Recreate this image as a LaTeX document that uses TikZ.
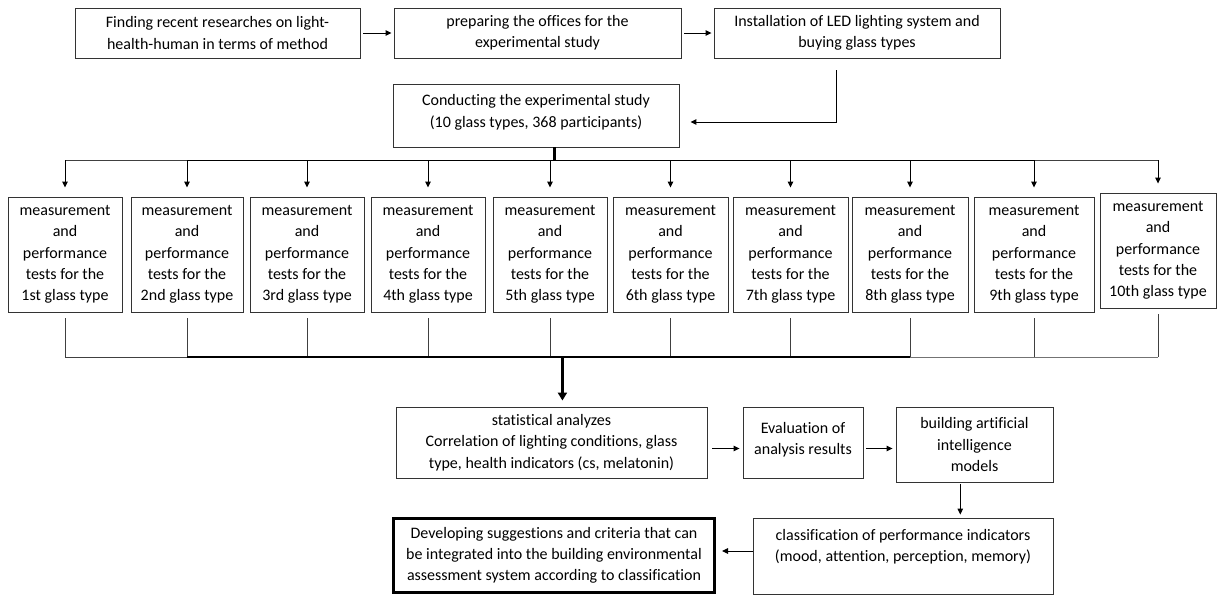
\documentclass[tikz,border=0pt]{standalone}
\usepackage{fontspec}
\setmainfont{Carlito}[Ligatures=NoCommon]
\usetikzlibrary{arrows.meta,calc}
% box placed by its corners: name, x1, y1, x2, y2, text
\newcommand\flowbox[7][]{%
  \node[box,#1,minimum width={#5-#3},minimum height={#6-#4}] (#2)
    at ({(#3+#5)/2},{(#4+#6)/2}) {#7};}
\newcommand\mtext[1]{measurement\\and\\performance\\tests for the\\#1 glass type}
\begin{document}
\begin{tikzpicture}[x=1pt,y=-1pt,
  box/.style={draw=black!80,line width=0.9pt,align=center,inner sep=0pt,
    font=\fontsize{16}{21.3}\selectfont},
  arr/.style={-{Triangle[length=6pt,width=5.5pt]},line width=1pt},
  thinline/.style={line width=0.8pt,draw=black!75},
  busline/.style={line width=1.3pt},
  trunk/.style={line width=2.6pt},
]
\useasboundingbox (0,0) rectangle (1218,595);

% top row
\flowbox{find}{75}{8}{360}{58}{Finding recent researches on light-\\health-human in terms of method}
\flowbox{prep}{394}{8}{681}{58}{preparing the offices for the\\experimental study}
\flowbox{inst}{714}{8}{1000}{58}{Installation of LED lighting system and\\buying glass types}
\flowbox{cond}{393}{84}{679}{147}{Conducting the experimental study\\(10 glass types, 368 participants)\\[-12pt]}

\draw[arr,shorten <=3pt,shorten >=2pt] (find) -- (prep);
\draw[arr,shorten <=3pt,shorten >=2pt] (prep) -- (inst);
\coordinate (instdrop) at ($(inst.south west)!0.43!(inst.south east)$);
\coordinate (condin) at ($(cond.east)+(0,6.5)$);
\draw[arr,shorten <=12pt,shorten >=11pt] (instdrop) |- (condin);

% measurement boxes
\flowbox{m1}{8}{197}{122}{312}{\mtext{1st}}
\flowbox{m2}{131}{197}{243}{312}{\mtext{2nd}}
\flowbox{m3}{250}{197}{364}{312}{\mtext{3rd}}
\flowbox{m4}{371}{197}{485}{312}{\mtext{4th}}
\flowbox{m5}{493}{197}{607}{312}{\mtext{5th}}
\flowbox{m6}{613}{197}{728}{312}{\mtext{6th}}
\flowbox{m7}{733}{197}{848}{312}{\mtext{7th}}
\flowbox{m8}{852}{197}{968}{312}{\mtext{8th}}
\flowbox{m9}{974}{197}{1094}{312}{\mtext{9th}}
\flowbox{m10}{1100}{193}{1216}{308}{\mtext{10th}}

% distribution bus
\coordinate (ctop) at ($(cond.south west)!0.565!(cond.south east)$);
\coordinate (bt) at ($(ctop)+(0,13)$);
\draw[trunk] (ctop) -- (bt);
\draw[thinline] (m1.north |- bt) -- (m2.north |- bt);
\draw[busline] (m2.north |- bt) -- (m9.north |- bt);
\draw[thinline] (m9.north |- bt) -- (m10.north |- bt);
\foreach \i in {1,...,10}{
  \draw[arr,shorten >=9pt] (m\i.north |- bt) -- (m\i.north);
}

% collecting bus
\flowbox{stat}{396}{407}{707}{478}{statistical analyzes\\Correlation of lighting conditions, glass\\type, health indicators (cs, melatonin)}
\coordinate (bb) at (0,357);
\foreach \i in {1,...,10}{
  \draw[thinline,shorten <=6pt] (m\i.south) -- (m\i.south |- bb);
}
\draw[thinline] (m1.south |- bb) -- (m2.south |- bb);
\draw[busline] (m2.south |- bb) -- (m8.south |- bb);
\draw[thinline,draw=black!55] (m8.south |- bb) -- (m10.south |- bb);
\coordinate (statin) at ($(stat.north west)!0.535!(stat.north east)$);
\draw[trunk,-{Triangle[length=8pt,width=9pt]},shorten >=6pt] (statin |- bb) -- (statin);

% analysis row
\flowbox{eval}{743}{407}{863}{478}{Evaluation of\\analysis results\\[-13pt]}
\flowbox{build}{896}{407}{1053}{482}{building artificial\\intelligence\\models}
\draw[arr,shorten <=5pt,shorten >=3pt] ($(stat.east)+(0,6)$) -- ($(eval.west)+(0,6)$);
\draw[arr,shorten <=3pt,shorten >=3pt] ($(eval.east)+(0,6)$) -- ($(build.west)+(0,4)$);

% bottom row
\flowbox{class}{753}{518}{1053}{594}{classification of performance indicators\\(mood, attention, perception, memory)\\~}
\flowbox[line width=3pt,draw=black]{dev}{393.5}{518.5}{714.5}{592.5}{Developing suggestions and criteria that can\\be integrated into the building environmental\\assessment system according to classification}
\coordinate (bdrop) at ($(build.south west)!0.41!(build.south east)$);
\draw[arr,shorten <=2pt,shorten >=3pt] (bdrop) -- (bdrop |- class.north);
\draw[arr,shorten >=6pt] ($(class.west)+(0,-5)$) -- ($(dev.east)+(0,-4.5)$);
\end{tikzpicture}
\end{document}
